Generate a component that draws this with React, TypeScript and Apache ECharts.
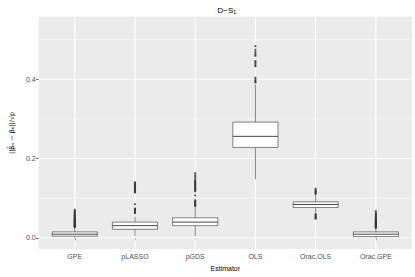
import React, { useEffect, useRef } from "react";
import * as echarts from "echarts";

const categories = ["GPE", "pLASSO", "pGDS", "OLS", "Orac.OLS", "Orac.GPE"];
const lowerWhisker = [0.0, 0.005, 0.004, 0.148, 0.064, 0.0];
const q1 = [0.004, 0.0215, 0.0306, 0.228, 0.0765, 0.003];
const median = [0.009, 0.0306, 0.0395, 0.256, 0.084, 0.009];
const q3 = [0.0148, 0.0395, 0.0504, 0.292, 0.0906, 0.0148];
const upperWhisker = [0.026, 0.053, 0.077, 0.387, 0.109, 0.024];

const outliersGPE = [0.027, 0.028, 0.029, 0.030, 0.031, 0.032, 0.033, 0.034, 0.035, 0.036, 0.037, 0.038, 0.039, 0.040, 0.041, 0.042, 0.043, 0.044, 0.045, 0.046, 0.047, 0.048, 0.050, 0.051, 0.053, 0.055, 0.056, 0.058, 0.060, 0.062, 0.064, 0.066, 0.068, 0.071];
const outliersPLASSO = [0.062, 0.064, 0.066, 0.068, 0.070, 0.072, 0.074, 0.085, 0.114, 0.116, 0.118, 0.120, 0.122, 0.124, 0.126, 0.128, 0.130, 0.132, 0.134, 0.136, 0.138, 0.140];
const outliersPGDS = [0.080, 0.082, 0.084, 0.086, 0.088, 0.090, 0.092, 0.095, 0.107, 0.117, 0.119, 0.121, 0.123, 0.125, 0.127, 0.129, 0.131, 0.133, 0.135, 0.137, 0.139, 0.141, 0.143, 0.146, 0.150, 0.154, 0.158, 0.163];
const outliersOLS = [0.392, 0.394, 0.397, 0.400, 0.404, 0.433, 0.436, 0.440, 0.443, 0.446, 0.459, 0.462, 0.466, 0.470, 0.475, 0.484];
const outliersOracOLS = [0.048, 0.050, 0.052, 0.054, 0.056, 0.058, 0.060, 0.111, 0.113, 0.115, 0.117, 0.119, 0.121, 0.124];
const outliersOracGPE = [0.025, 0.026, 0.027, 0.028, 0.029, 0.030, 0.031, 0.032, 0.033, 0.034, 0.035, 0.036, 0.037, 0.038, 0.039, 0.040, 0.041, 0.042, 0.043, 0.044, 0.046, 0.048, 0.050, 0.052, 0.054, 0.056, 0.058, 0.060, 0.063, 0.067];

const yMajorTicks = [0, 0.2, 0.4];
const yMinorTicks = [0.1, 0.3, 0.5];
const xTicks = [1, 2, 3, 4, 5, 6];

const FONT = "Liberation Sans, Arial, Helvetica, sans-serif";

export default function App() {
  const ref = useRef<HTMLDivElement>(null);
  useEffect(() => {
    if (!ref.current) return;
    const chart = echarts.init(ref.current, null, { renderer: "svg" });
    const allOutliers = [outliersGPE, outliersPLASSO, outliersPGDS, outliersOLS, outliersOracOLS, outliersOracGPE];
    const outlierData: number[][] = [];
    allOutliers.forEach((arr, i) => arr.forEach((v) => outlierData.push([i + 1, v])));
    const boxData = categories.map((_, i) => [i + 1, lowerWhisker[i], q1[i], median[i], q3[i], upperWhisker[i]]);

    const vGrid = (params: any, api: any) => {
      const cs = params.coordSys;
      const p = api.coord([api.value(0), api.value(1)]);
      return { type: "line", shape: { x1: p[0], y1: cs.y, x2: p[0], y2: cs.y + cs.height }, style: { stroke: "#ffffff", lineWidth: 1.1 }, silent: true };
    };
    const hGrid = (w: number) => (params: any, api: any) => {
      const cs = params.coordSys;
      const p = api.coord([api.value(0), api.value(1)]);
      return { type: "line", shape: { x1: cs.x, y1: p[1], x2: cs.x + cs.width, y2: p[1] }, style: { stroke: "#ffffff", lineWidth: w }, silent: true };
    };

    chart.setOption({
      animation: false,
      backgroundColor: "#ffffff",
      title: {
        text: "D\u2212S{s|1}",
        left: 222,
        top: 1,
        textAlign: "center",
        textStyle: {
          fontFamily: FONT,
          fontSize: 8,
          fontWeight: "normal",
          color: "#000",
          rich: { s: { fontSize: 5.5, fontFamily: FONT, color: "#000", verticalAlign: "bottom", padding: [3, 0, 0, 0] } },
        },
      },
      grid: { left: 32.2, right: 3, top: 16.7, bottom: 22.7, show: true, backgroundColor: "#EBEBEB", borderWidth: 0 },
      xAxis: {
        type: "value",
        min: 0.4,
        max: 6.6,
        splitLine: { show: false },
        axisLine: { show: false },
        axisTick: { show: true, length: 2.5, customValues: xTicks, lineStyle: { color: "#333", width: 0.8 } },
        axisLabel: {
          customValues: xTicks,
          formatter: (v: number) => categories[Math.round(v) - 1] || "",
          fontSize: 7,
          color: "#4D4D4D",
          fontFamily: FONT,
          margin: 4,
        },
        name: "Estimator",
        nameLocation: "middle",
        nameGap: 12,
        nameTextStyle: { fontSize: 7, color: "#000", fontFamily: FONT },
      },
      yAxis: {
        type: "value",
        min: -0.0286,
        max: 0.558,
        splitLine: { show: false },
        axisLine: { show: false },
        axisTick: { show: true, length: 2.5, customValues: yMajorTicks, lineStyle: { color: "#333", width: 0.8 } },
        axisLabel: {
          customValues: yMajorTicks,
          formatter: (v: number) => v.toFixed(1),
          fontSize: 7,
          color: "#4D4D4D",
          fontFamily: FONT,
          margin: 3,
        },
        name: "||\u03B2\u0302\u2099 \u2212 \u03B2\u2080||/\u221Ap",
        nameLocation: "middle",
        nameGap: 23,
        nameTextStyle: { fontSize: 6.5, color: "#000", fontFamily: "DejaVu Sans, sans-serif" },
      },
      series: [
        { type: "custom", z: 1, renderItem: hGrid(0.55), data: yMinorTicks.map((v) => [1, v]), encode: { x: 0, y: 1 }, silent: true },
        { type: "custom", z: 1, renderItem: hGrid(1.1), data: yMajorTicks.map((v) => [1, v]), encode: { x: 0, y: 1 }, silent: true },
        { type: "custom", z: 1, renderItem: vGrid, data: xTicks.map((v) => [v, 0]), encode: { x: 0, y: 1 }, silent: true },
        {
          type: "custom",
          z: 3,
          data: boxData,
          encode: { x: 0, y: [1, 2, 3, 4, 5] },
          renderItem: (params: any, api: any) => {
            const x = api.value(0);
            const pLo = api.coord([x, api.value(1)]);
            const pA = api.coord([x, api.value(2)]);
            const pM = api.coord([x, api.value(3)]);
            const pB = api.coord([x, api.value(4)]);
            const pHi = api.coord([x, api.value(5)]);
            const w = api.size([1, 0])[0] * 0.75;
            const st = { stroke: "#333333", lineWidth: 0.6 };
            return {
              type: "group",
              children: [
                { type: "line", shape: { x1: pLo[0], y1: pLo[1], x2: pA[0], y2: pA[1] }, style: st },
                { type: "line", shape: { x1: pB[0], y1: pB[1], x2: pHi[0], y2: pHi[1] }, style: st },
                { type: "rect", shape: { x: pA[0] - w / 2, y: pB[1], width: w, height: pA[1] - pB[1] }, style: { fill: "#ffffff", stroke: "#333333", lineWidth: 0.6 } },
                { type: "line", shape: { x1: pM[0] - w / 2, y1: pM[1], x2: pM[0] + w / 2, y2: pM[1] }, style: { stroke: "#333333", lineWidth: 0.9 } },
              ],
            };
          },
        },
        {
          type: "scatter",
          z: 4,
          data: outlierData,
          symbol: "circle",
          symbolSize: 2.2,
          itemStyle: { color: "#333333" },
          silent: true,
        },
      ],
    });
    return () => chart.dispose();
  }, []);
  return <div ref={ref} style={{ position: "absolute", left: 0, top: 0, width: 415, height: 277 }} />;
}
